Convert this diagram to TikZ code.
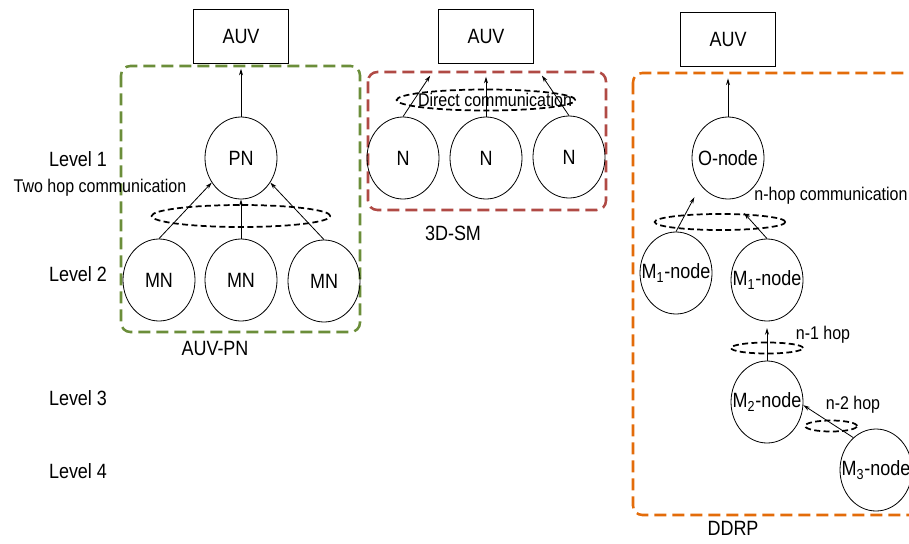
\documentclass[tikz,border=0pt]{standalone}
\usepackage{fontspec}
\setmainfont{Liberation Sans}[FakeStretch=0.87]
\usetikzlibrary{shapes.geometric,arrows.meta}
\definecolor{framegreen}{RGB}{107,142,58}
\definecolor{framered}{RGB}{176,74,69}
\definecolor{frameorange}{RGB}{227,108,10}

\begin{document}
\begin{tikzpicture}[
	x=0.75pt, y=-0.75pt,
	% Define the styles for the nodes
	every node/.style={font=\fontsize{15.5}{18}\selectfont, inner sep=0pt},
	sensor/.style={ellipse, draw, line width=0.6pt, minimum width=54pt, minimum height=61.5pt},
	auv/.style={rectangle, draw, line width=0.6pt, minimum width=71pt, minimum height=40.5pt},
	hop/.style={ellipse, draw, line width=1.3pt, dash pattern=on 4.5pt off 2.5pt},
	note/.style={font=\fontsize{13.8}{16}\selectfont},
	frame/.style={line width=1.9pt, dash pattern=on 9pt off 4.5pt, rounded corners=7pt},
	link/.style={line width=0.6pt, -{Stealth[length=5pt, width=3pt]}}
	]
	\useasboundingbox (0,0) rectangle (909,543);
	
	% --- FRAMES ---
	\draw[frame, framegreen] (121,66) rectangle (360,332);
	\draw[frame, framered] (368,72) rectangle (606,210);
	\draw[frame, frameorange] (633,73) rectangle (940,515);
	
	% --- AUVs ---
	\node[auv] (auvA) at (241,36) {AUV};
	\node[auv] (auvB) at (486,36) {AUV};
	\node[auv] (auvC) at (728,39) {AUV};
	
	% --- LEVELS ---
	\node (lev1) at (78,159) {Level 1};
	\node (lev2) at (78,274) {Level 2};
	\node (lev3) at (78,398) {Level 3};
	\node (lev4) at (78,471) {Level 4};
	
	% --- AUV-PN ---
	\node[sensor, label={center:PN}] (pn) at (241,158) {};
	\node[sensor, label={center:MN}] (mnA) at (159,280) {};
	\node[sensor, label={center:MN}] (mnB) at (241,280) {};
	\node[sensor, label={center:MN}] (mnC) at (324,281) {};
	\node[hop, minimum width=134pt, minimum height=16.5pt] (hopA) at (241,216) {};
	\node[note] (twohop) at (100,188) {Two hop communication};
	\node (auvpn) at (215,348) {AUV-PN};
	
	\draw[link, shorten >=4pt] (pn.north) -- (auvA.south);
	\draw[link] (mnA.north) -- (pn.220);
	\draw[link] (mnB.north) -- (pn.south);
	\draw[link] (mnC.north) -- (pn.-40);
	
	% --- 3D-SM ---
	\node[sensor, label={center:N}] (nA) at (403,158) {};
	\node[sensor, label={center:N}] (nB) at (486,158) {};
	\node[sensor, label={center:N}] (nC) at (569,157) {};
	\node[hop, minimum width=134pt, minimum height=15.75pt] (hopB) at (486,100) {};
	\node[note] (direct) at (495,100) {Direct communication};
	\node (sm) at (453,233) {3D-SM};
	
	\draw[link, shorten >=11pt] (nA.north) -- (auvB.south west);
	\draw[link, shorten >=10pt] (nB.north) -- (auvB.south);
	\draw[link, shorten >=11pt] (nC.north) -- (auvB.south east);
	
	% --- DDRP ---
	\node[sensor, label={center:O-node}] (onode) at (728,158) {};
	\node[sensor, label={center:M\textsubscript{1}-node}] (m1A) at (676,273) {};
	\node[sensor, label={center:M\textsubscript{1}-node}] (m1B) at (767,280) {};
	\node[sensor, label={center:M\textsubscript{2}-node}] (m2) at (767,402) {};
	\node[sensor, label={center:M\textsubscript{3}-node}] (m3) at (876,470) {};
	\node[hop, minimum width=98pt, minimum height=12pt] (hopC) at (720,222) {};
	\node[hop, minimum width=54pt, minimum height=8.25pt] (hopD) at (767,348) {};
	\node[hop, minimum width=39pt, minimum height=8.25pt] (hopE) at (831,426) {};
	\node[note] (nhop) at (831,196) {n-hop communication};
	\node[note] (n1hop) at (823,335) {n-1 hop};
	\node[note] (n2hop) at (853,405) {n-2 hop};
	\node (ddrp) at (733,528) {DDRP};
	\coordinate (tipB) at (744,213);
	
	\draw[link, shorten >=9pt] (onode.north) -- (auvC.south);
	\draw[link, shorten >=10pt] (m1A.north) -- (onode.225);
	\draw[link] (m1B.north) -- (tipB);
	\draw[link, shorten >=5pt] (m2.north) -- (m1B.south);
	\draw[link] (m3.125) -- (m2.-5);
	
\end{tikzpicture}
\end{document}
